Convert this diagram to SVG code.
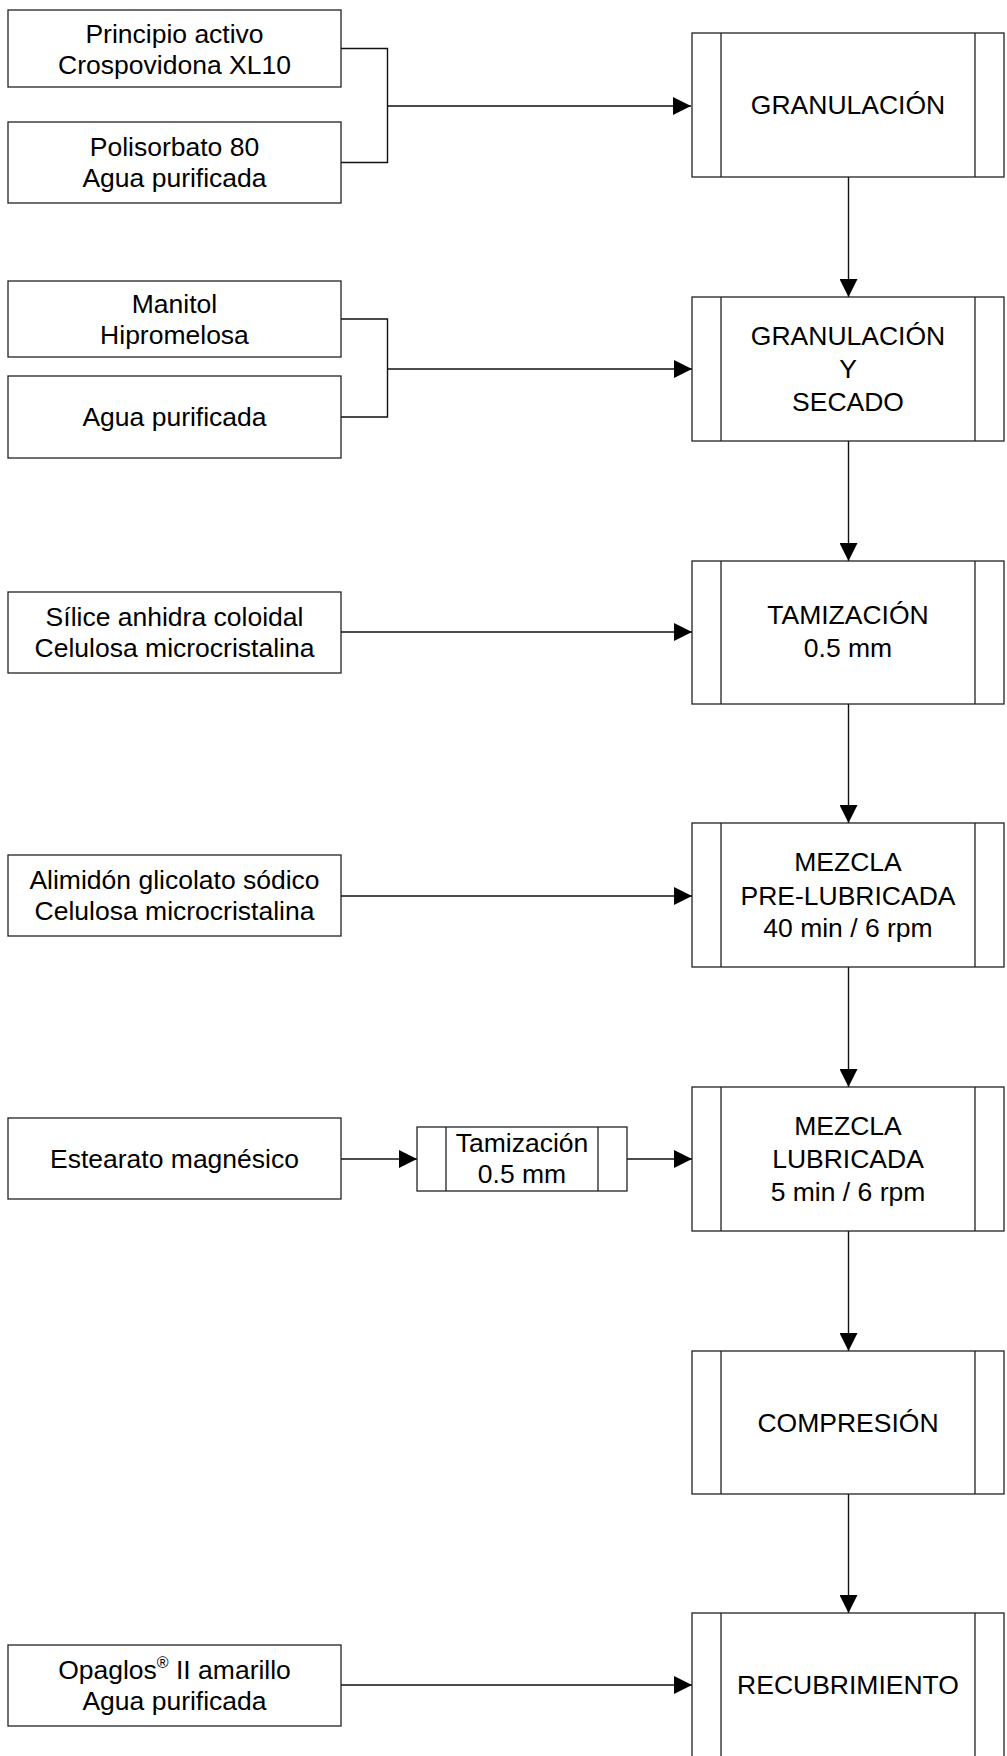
<svg xmlns="http://www.w3.org/2000/svg" width="1007" height="1756" viewBox="0 0 1007 1756">
<defs>
<style>
.box{fill:#fff;stroke:#222;stroke-width:1.3}
.in{stroke:#222;stroke-width:1.3;fill:none}
.t{font-family:"Liberation Sans",Arial,sans-serif;font-size:26.5px;fill:#000;text-anchor:middle}
.c{fill:none;stroke:#111;stroke-width:1.4}
</style>
<marker id="ah" markerUnits="userSpaceOnUse" markerWidth="18" markerHeight="18" refX="18" refY="9" orient="auto">
<path d="M0,0 L18,9 L0,18 z" fill="#000"/>
</marker>
</defs>
<rect width="1007" height="1756" fill="#fff"/>

<g id="connectors">
<path class="c" d="M341,48.5 H387.5 V162.5 H341"/>
<path class="c" d="M387.5,106 H691" marker-end="url(#ah)"/>
<path class="c" d="M341,319 H387.5 V417 H341"/>
<path class="c" d="M387.5,369 H692" marker-end="url(#ah)"/>
<path class="c" d="M341,632 H692" marker-end="url(#ah)"/>
<path class="c" d="M341,896 H692" marker-end="url(#ah)"/>
<path class="c" d="M341,1159 H417" marker-end="url(#ah)"/>
<path class="c" d="M627,1159 H692" marker-end="url(#ah)"/>
<path class="c" d="M341,1685 H692" marker-end="url(#ah)"/>
<path class="c" d="M848.5,177 V297" marker-end="url(#ah)"/>
<path class="c" d="M848.5,441 V561" marker-end="url(#ah)"/>
<path class="c" d="M848.5,704 V823" marker-end="url(#ah)"/>
<path class="c" d="M848.5,967 V1087" marker-end="url(#ah)"/>
<path class="c" d="M848.5,1231 V1351" marker-end="url(#ah)"/>
<path class="c" d="M848.5,1494 V1613" marker-end="url(#ah)"/>
</g>

<g id="in1"><rect class="box" x="8" y="10" width="333" height="77"/>
<text class="t" x="174.5" y="43">Principio activo</text><text class="t" x="174.5" y="74">Crospovidona XL10</text></g>
<g id="in2"><rect class="box" x="8" y="122" width="333" height="81"/>
<text class="t" x="174.5" y="156">Polisorbato 80</text><text class="t" x="174.5" y="187">Agua purificada</text></g>
<g id="in3"><rect class="box" x="8" y="281" width="333" height="76"/>
<text class="t" x="174.5" y="313">Manitol</text><text class="t" x="174.5" y="344">Hipromelosa</text></g>
<g id="in4"><rect class="box" x="8" y="376" width="333" height="82"/>
<text class="t" x="174.5" y="426">Agua purificada</text></g>
<g id="in5"><rect class="box" x="8" y="592" width="333" height="81"/>
<text class="t" x="174.5" y="626">Sílice anhidra coloidal</text><text class="t" x="174.5" y="657">Celulosa microcristalina</text></g>
<g id="in6"><rect class="box" x="8" y="855" width="333" height="81"/>
<text class="t" x="174.5" y="889">Alimidón glicolato sódico</text><text class="t" x="174.5" y="920">Celulosa microcristalina</text></g>
<g id="in7"><rect class="box" x="8" y="1118" width="333" height="81"/>
<text class="t" x="174.5" y="1168">Estearato magnésico</text></g>
<g id="in8"><rect class="box" x="8" y="1645" width="333" height="81"/>
<text class="t" x="174.5" y="1679">Opaglos<tspan font-size="16" dy="-11">®</tspan><tspan dy="11"> II amarillo</tspan></text><text class="t" x="174.5" y="1710">Agua purificada</text></g>

<g id="tam-small"><rect class="box" x="417" y="1127" width="210" height="64"/>
<path class="in" d="M446,1127 V1191 M598,1127 V1191"/>
<text class="t" x="522" y="1152">Tamización</text><text class="t" x="522" y="1183">0.5 mm</text></g>

<g id="p1"><rect class="box" x="692" y="33" width="312" height="144"/>
<path class="in" d="M721,33 V177 M975,33 V177"/>
<text class="t" x="848" y="114">GRANULACIÓN</text></g>
<g id="p2"><rect class="box" x="692" y="297" width="312" height="144"/>
<path class="in" d="M721,297 V441 M975,297 V441"/>
<text class="t" x="848" y="345">GRANULACIÓN</text><text class="t" x="848" y="378">Y</text><text class="t" x="848" y="411">SECADO</text></g>
<g id="p3"><rect class="box" x="692" y="561" width="312" height="143"/>
<path class="in" d="M721,561 V704 M975,561 V704"/>
<text class="t" x="848" y="624">TAMIZACIÓN</text><text class="t" x="848" y="657">0.5 mm</text></g>
<g id="p4"><rect class="box" x="692" y="823" width="312" height="144"/>
<path class="in" d="M721,823 V967 M975,823 V967"/>
<text class="t" x="848" y="871">MEZCLA</text><text class="t" x="848" y="905">PRE-LUBRICADA</text><text class="t" x="848" y="937">40 min / 6 rpm</text></g>
<g id="p5"><rect class="box" x="692" y="1087" width="312" height="144"/>
<path class="in" d="M721,1087 V1231 M975,1087 V1231"/>
<text class="t" x="848" y="1135">MEZCLA</text><text class="t" x="848" y="1168">LUBRICADA</text><text class="t" x="848" y="1201">5 min / 6 rpm</text></g>
<g id="p6"><rect class="box" x="692" y="1351" width="312" height="143"/>
<path class="in" d="M721,1351 V1494 M975,1351 V1494"/>
<text class="t" x="848" y="1432">COMPRESIÓN</text></g>
<g id="p7"><rect class="box" x="692" y="1613" width="312" height="160"/>
<path class="in" d="M721,1613 V1773 M975,1613 V1773"/>
<text class="t" x="848" y="1694">RECUBRIMIENTO</text></g>
</svg>
